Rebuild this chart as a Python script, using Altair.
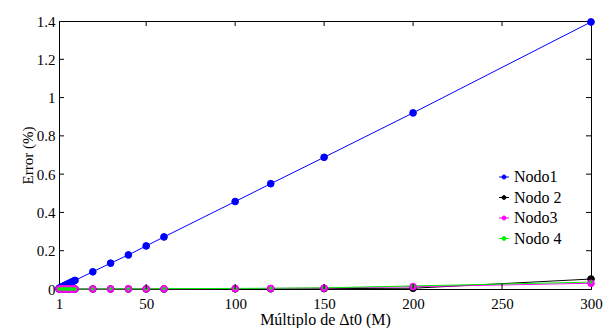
import altair as alt
import pandas as pd

series_names = ["Nodo1", "Nodo 2", "Nodo3", "Nodo 4"]
series_colors = ["#0000FF", "#000000", "#FF00FF", "#00EE00"]

multiples = [1, 2, 3, 4, 5, 6, 7, 8, 9, 10, 20, 30, 40, 50, 60, 100, 120, 150, 200, 300]
nodo1 = [0.004, 0.009, 0.013, 0.018, 0.022, 0.027, 0.031, 0.036, 0.040, 0.045,
         0.090, 0.135, 0.178, 0.225, 0.272, 0.457, 0.550, 0.688, 0.920, 1.395]
nodo2 = [0.0, 0.0, 0.0, 0.0, 0.0, 0.0, 0.0, 0.0, 0.0, 0.0,
         0.0, 0.0, 0.0, 0.0, 0.0, 0.001, 0.001, 0.002, 0.004, 0.052]
nodo3 = [0.0, 0.0, 0.0, 0.0, 0.0, 0.0, 0.0, 0.0, 0.0, 0.0,
         0.0, 0.0, 0.001, 0.001, 0.001, 0.002, 0.003, 0.005, 0.012, 0.030]
nodo4 = [0.0, 0.0, 0.0, 0.0, 0.0, 0.0, 0.0, 0.0, 0.0, 0.0,
         0.0, 0.001, 0.001, 0.001, 0.002, 0.003, 0.004, 0.006, 0.016, 0.036]

x_ticks = [1, 50, 100, 150, 200, 250, 300]
y_ticks = [0, 0.2, 0.4, 0.6, 0.8, 1.0, 1.2, 1.4]
x_inner_ticks = [50, 100, 150, 200, 250]
y_inner_ticks = [0.2, 0.4, 0.6, 0.8, 1.0, 1.2]

W, H = 532, 268
FONT = "Liberation Serif, Times New Roman, Times, serif"

rows = []
for name, vals in zip(series_names, [nodo1, nodo2, nodo3, nodo4]):
    for m, v in zip(multiples, vals):
        rows.append({"M": m, "err": v, "serie": name})
df = pd.DataFrame(rows)

xscale = alt.Scale(domain=[1, 300], nice=False, zero=False)
yscale = alt.Scale(domain=[0, 1.4], nice=False)
cscale = alt.Scale(domain=series_names, range=series_colors)
sscale = alt.Scale(domain=series_names, range=series_colors)

legend_path = "M-1,0L1,0M-0.4,0A0.4,0.4 0 1,1 0.4,0A0.4,0.4 0 1,1 -0.4,0Z"
asterisk = "M0,-1L0,1M-1,0L1,0M-0.7,-0.7L0.7,0.7M-0.7,0.7L0.7,-0.7"


def make_legend():
    return alt.Legend(
        title=None, orient="none", legendX=437, legendY=148,
        symbolType=legend_path, symbolSize=100, symbolStrokeWidth=1,
        symbolOpacity=1,
        labelFont=FONT, labelFontSize=16, labelColor="black", labelOffset=2,
        rowPadding=4.5, padding=0,
    )


x_axis = alt.Axis(
    values=x_ticks, title="Múltiplo de Δt0 (M)", grid=False, ticks=False,
    domainColor="black", domainWidth=1, labelFont=FONT, labelFontSize=15,
    labelColor="black", labelPadding=7, labelFlush=False,
    titleFont=FONT, titleFontSize=16, titleFontWeight="normal", titleColor="black",
    titleY=35, titleBaseline="alphabetic")
y_axis = alt.Axis(
    values=y_ticks, format="~g", title="Error (%)", grid=False, ticks=False,
    domainColor="black", domainWidth=1, labelFont=FONT, labelFontSize=15,
    labelColor="black", labelPadding=4, labelFlush=False,
    titleFont=FONT, titleFontSize=15, titleFontWeight="normal", titleColor="black",
    titleX=-32, titleY=H / 2, titleAngle=270, titleAlign="center", titleBaseline="middle")
x_enc = alt.X("M:Q", scale=xscale, axis=x_axis)
y_enc = alt.Y("err:Q", scale=yscale, axis=y_axis)

base = alt.Chart(df)
lines = base.mark_line(strokeWidth=1).encode(
    x=x_enc, y=y_enc,
    color=alt.Color("serie:N", scale=cscale, legend=make_legend()),
    detail="serie:N",
)
circles = base.transform_filter(alt.datum.serie != "Nodo 4").mark_point(
    filled=True, strokeWidth=1, opacity=1, shape="circle", size=45).encode(
    x=x_enc, y=y_enc,
    color=alt.Color("serie:N", scale=cscale, legend=make_legend()),
    stroke=alt.Stroke("serie:N", scale=sscale, legend=make_legend()),
)
stars = base.transform_filter(alt.datum.serie == "Nodo 4").mark_point(
    filled=False, strokeWidth=1, opacity=1, shape=asterisk, size=14).encode(
    x=x_enc, y=y_enc,
    color=alt.Color("serie:N", scale=cscale, legend=make_legend()),
)

xt = pd.DataFrame({"M": x_inner_ticks})
yt = pd.DataFrame({"err": y_inner_ticks})
tick_bottom = alt.Chart(xt).mark_rule(color="black", strokeWidth=1).encode(
    x=x_enc, y=alt.value(H), y2=alt.value(H - 5))
tick_top = alt.Chart(xt).mark_rule(color="black", strokeWidth=1).encode(
    x=x_enc, y=alt.value(0), y2=alt.value(5))
tick_left = alt.Chart(yt).mark_rule(color="black", strokeWidth=1).encode(
    y=y_enc, x=alt.value(0), x2=alt.value(5))
tick_right = alt.Chart(yt).mark_rule(color="black", strokeWidth=1).encode(
    y=y_enc, x=alt.value(W), x2=alt.value(W - 5))

chart = alt.layer(lines, circles, stars, tick_bottom, tick_top, tick_left, tick_right).properties(
    width=W, height=H,
    autosize=alt.AutoSizeParams(type="none"),
    padding={"left": 59, "top": 21, "right": 23, "bottom": 39},
    background="white",
).configure_view(stroke="black", strokeWidth=1)

chart.save("out.html", embed_options={"renderer": "svg", "actions": False})
